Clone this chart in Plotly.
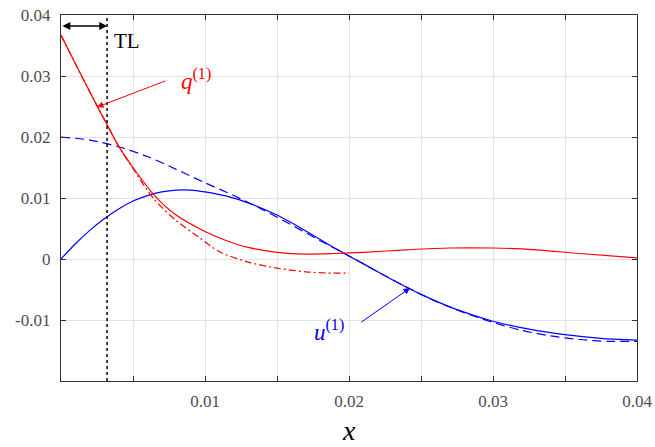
import plotly.graph_objects as go

# ---- data ----
x_q = [0, 0.001, 0.002, 0.0025, 0.003, 0.004, 0.005, 0.0065, 0.008, 0.010, 0.0115,
       0.013, 0.015, 0.017, 0.019, 0.021, 0.024, 0.027, 0.030, 0.033, 0.036, 0.040]
q1 = [0.0367, 0.0320, 0.0274, 0.0251, 0.0229, 0.0185, 0.0150, 0.0104, 0.0072, 0.0045, 0.0030,
      0.0019, 0.0011, 0.0008, 0.0009, 0.0011, 0.0015, 0.0018, 0.0018, 0.0015, 0.0009, 0.0002]

x_qa = [0, 0.001, 0.002, 0.003, 0.004, 0.005, 0.0065, 0.008, 0.0095, 0.011, 0.013,
        0.015, 0.017, 0.0185, 0.020]
q1_approx = [0.0367, 0.0320, 0.0274, 0.0229, 0.0185, 0.0148, 0.0097, 0.0063, 0.0037, 0.0012, -0.0005,
             -0.0015, -0.0021, -0.0023, -0.0023]

x_u = [0, 0.001, 0.002, 0.003, 0.004, 0.005, 0.006, 0.007, 0.008, 0.009, 0.010, 0.0115,
       0.013, 0.015, 0.017, 0.019, 0.021, 0.023, 0.025, 0.0275, 0.030, 0.0325, 0.035, 0.0375, 0.040]
u1 = [0, 0.0025, 0.0047, 0.0066, 0.0082, 0.0095, 0.0104, 0.0110, 0.0113, 0.0113, 0.0110, 0.0103,
      0.0092, 0.0072, 0.0046, 0.0018, -0.0008, -0.0034, -0.0058, -0.0083, -0.0102, -0.0115, -0.0124, -0.0130, -0.0133]

x_ua = [0, 0.002, 0.004, 0.006, 0.008, 0.010, 0.012, 0.014, 0.016, 0.018, 0.020,
        0.022, 0.024, 0.026, 0.028, 0.030, 0.032, 0.034, 0.036, 0.038, 0.040]
u1_approx = [0.0200, 0.0195, 0.0184, 0.0168, 0.0147, 0.0125, 0.0104, 0.0081, 0.0056, 0.0030, 0.0005,
             -0.0021, -0.0046, -0.0069, -0.0088, -0.0104, -0.0117, -0.0126, -0.0132, -0.0135, -0.0135]

TL = 0.0032
x_ticks = [0, 0.005, 0.01, 0.015, 0.02, 0.025, 0.03, 0.035, 0.04]
x_ticktext = ["", "", "0.01", "", "0.02", "", "0.03", "", "0.04"]
y_ticks = [-0.02, -0.01, 0, 0.01, 0.02, 0.03, 0.04]
y_ticktext = ["", "-0.01", "0", "0.01", "0.02", "0.03", "0.04"]

SERIF = "'Liberation Serif', 'DejaVu Serif', 'Times New Roman', Times, serif"
RED = "#ff0000"
BLUE = "#0000ff"

fig = go.Figure()
fig.add_trace(go.Scatter(x=x_ua, y=u1_approx, mode="lines", line=dict(color=BLUE, width=1.2, dash="9px,5px", shape="spline", smoothing=0.8)))
fig.add_trace(go.Scatter(x=x_u, y=u1, mode="lines", line=dict(color=BLUE, width=1.2, shape="spline", smoothing=0.8)))
fig.add_trace(go.Scatter(x=x_qa, y=q1_approx, mode="lines", line=dict(color=RED, width=1.2, dash="7px,3px,2px,3px", shape="spline", smoothing=0.8)))
fig.add_trace(go.Scatter(x=x_q, y=q1, mode="lines", line=dict(color=RED, width=1.2, shape="spline", smoothing=0.8)))

# dotted TL line
fig.add_shape(type="line", x0=TL, x1=TL, y0=0, y1=1, xref="x", yref="paper",
              line=dict(color="black", width=1.5, dash="dot"))

annotations = [
    # TL double arrow
    dict(x=TL, y=0.0382, ax=0, ay=0.0382, xref="x", yref="y", axref="x", ayref="y",
         text="", showarrow=True, arrowhead=2, startarrowhead=2, arrowside="end+start",
         arrowsize=1.2, arrowwidth=1.3, arrowcolor="black", standoff=0, startstandoff=0),
    dict(x=0.0046, y=0.0358, xref="x", yref="y", text="TL", showarrow=False,
         font=dict(family=SERIF, size=21, color="black")),
    # q(1) arrow and label
    dict(x=0.0025, y=0.0249, ax=0.00736, ay=0.0293, xref="x", yref="y", axref="x", ayref="y",
         text="", showarrow=True, arrowhead=2, arrowsize=1.3, arrowwidth=1.0, arrowcolor=RED, standoff=0),
    dict(x=0.00935, y=0.0294, xref="x", yref="y", text="<i>q</i><sup>(1)</sup>", showarrow=False,
         font=dict(family=SERIF, size=23, color=RED)),
    # u(1) arrow and label
    dict(x=0.02424, y=-0.00475, ax=0.02076, ay=-0.0105, xref="x", yref="y", axref="x", ayref="y",
         text="", showarrow=True, arrowhead=2, arrowsize=1.3, arrowwidth=1.0, arrowcolor=BLUE, standoff=0),
    dict(x=0.01860, y=-0.0117, xref="x", yref="y", text="<i>u</i><sup>(1)</sup>", showarrow=False,
         font=dict(family=SERIF, size=23, color=BLUE)),
    # x-axis title
    dict(x=0.5, y=-0.135, xref="paper", yref="paper", text="<i>x</i>", showarrow=False,
         yanchor="middle", font=dict(family=SERIF, size=28, color="black")),
]

axis_common = dict(showgrid=True, gridcolor="#e3e3e3", gridwidth=1, zeroline=False,
                   showline=True, linecolor="#333333", linewidth=1.3, mirror="ticks",
                   ticks="inside", ticklen=5, tickwidth=1.2, tickcolor="#333333", automargin=False,
                   tickfont=dict(family=SERIF, size=17, color="#4d4d4d"))

fig.update_layout(
    width=655, height=447,
    margin=dict(l=61, r=18, t=15, b=66),
    paper_bgcolor="white", plot_bgcolor="white",
    showlegend=False,
    font=dict(family=SERIF),
    annotations=annotations,
    xaxis=dict(range=[0, 0.04], tickmode="array", tickvals=x_ticks, ticktext=x_ticktext,
               ticklabelstandoff=4, **axis_common),
    yaxis=dict(range=[-0.02, 0.04], tickmode="array", tickvals=y_ticks, ticktext=y_ticktext,
               ticklabelstandoff=6, **axis_common),
)

fig.write_html("out.html")
